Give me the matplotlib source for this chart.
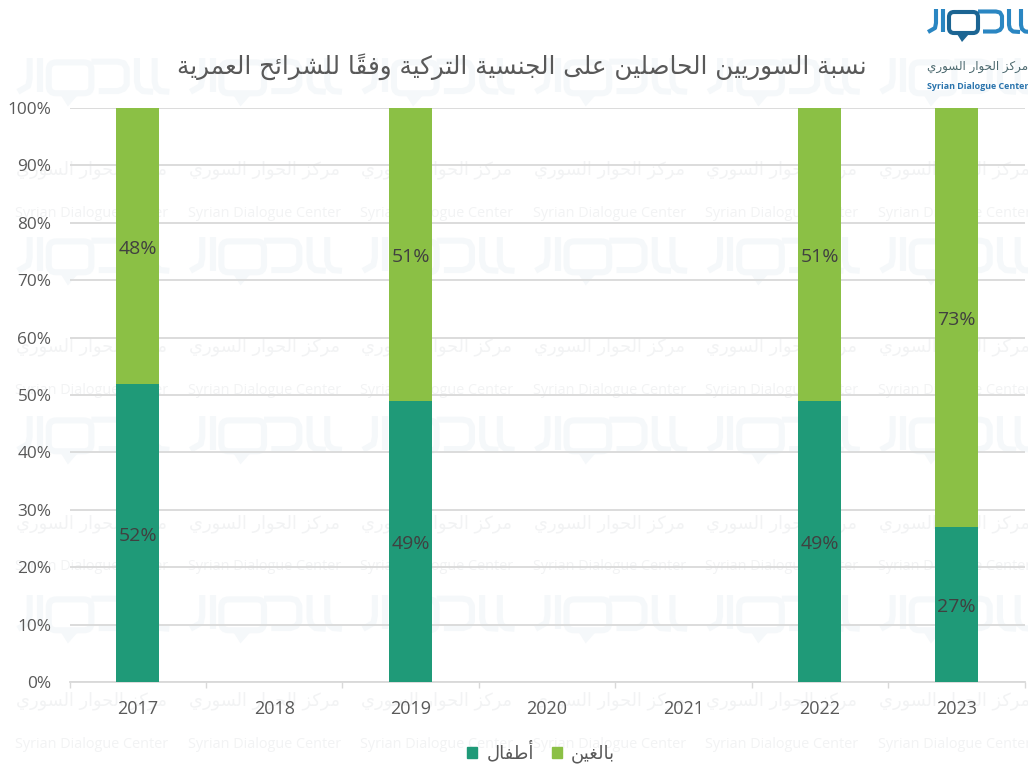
"""Share of Syrians granted Turkish citizenship, by age group"""

import unicodedata

import matplotlib

matplotlib.use("Agg")
import matplotlib.pyplot as plt
import numpy as np
from matplotlib.patches import FancyBboxPatch, Patch, Polygon

years = ["2017", "2018", "2019", "2020", "2021", "2022", "2023"]
children = [52, np.nan, 49, np.nan, np.nan, 49, 27]
adults = [48, np.nan, 51, np.nan, np.nan, 51, 73]
y_ticks = [0, 10, 20, 30, 40, 50, 60, 70, 80, 90, 100]
y_tick_labels = [f"{v}%" for v in y_ticks]

title_text = "نسبة السوريين الحاصلين على الجنسية التركية وفقاً للشرائح العمرية"
children_label = "أطفال"
adults_label = "بالغين"
center_ar = "مركز الحوار السوري"
center_en = "Syrian Dialogue Center"

DARK_GREEN = "#1f9a78"
LIGHT_GREEN = "#8bc045"
GRID = "#d9d9d9"
TEXT = "#595959"
WATERMARK = "#f5f8fa"
WATERMARK_TEXT = "#f2f3f4"
LATIN = "Open Sans"

# presentation forms, looked up from the unicode tables
forms = {}
for code in list(range(0xFE80, 0xFEFD)):
    parts = unicodedata.decomposition(chr(code)).split()
    if len(parts) == 2:
        forms.setdefault(chr(int(parts[1], 16)), {})[parts[0]] = chr(code)


def shape(text):
    """Matplotlib has no Arabic shaping, so join the letters and reverse them"""
    clusters = []
    for ch in text:
        if unicodedata.combining(ch) and clusters:
            clusters[-1][1] += ch
        else:
            clusters.append([ch, ""])
    out = []
    for i, (ch, marks) in enumerate(clusters):
        prev = clusters[i - 1][0] if i > 0 else " "
        nxt = clusters[i + 1][0] if i + 1 < len(clusters) else " "
        f = forms.get(ch)
        if f is None:
            out.append(ch + marks)
            continue
        joins_prev = "<initial>" in forms.get(prev, {})
        joins_next = "<final>" in forms.get(nxt, {}) and "<initial>" in f
        if joins_prev and joins_next:
            key = "<medial>"
        elif joins_prev:
            key = "<final>"
        elif joins_next:
            key = "<initial>"
        else:
            key = "<isolated>"
        out.append(f.get(key, ch) + marks)
    return "".join(reversed(out))


def draw_logo(ax, x0, y0, scale, color, dark=None, zorder=1):
    """The site logo as thick strokes, x0/y0 is its top left corner in pixels"""
    dark = dark or color
    lw = 4.1 * scale * 0.72
    strokes = [
        ([11, 11, 10, 3], [0, 14, 19, 23]),
        ([18, 18], [0, 23]),
        ([53, 71, 75, 77, 77, 75, 71, 58], [2.5, 2.5, 3.5, 7, 18, 21, 22.5, 22.5]),
        ([84, 84, 85, 88, 95], [0, 16, 20, 22.5, 23]),
        ([96, 96, 97, 100, 106], [0, 16, 20, 22.5, 23]),
    ]
    for sx, sy in strokes:
        ax.plot(
            x0 + np.array(sx) * scale,
            y0 + np.array(sy) * scale,
            color=color,
            lw=lw,
            solid_capstyle="butt",
            solid_joinstyle="round",
            zorder=zorder,
        )
    ax.add_patch(
        FancyBboxPatch(
            (x0 + 29 * scale, y0 + 8 * scale),
            19 * scale,
            11 * scale,
            boxstyle=f"round,pad={5 * scale},rounding_size={5 * scale}",
            fc="none",
            ec=dark,
            lw=lw,
            zorder=zorder,
        )
    )
    ax.add_patch(
        Polygon(
            [
                (x0 + 32 * scale, y0 + 25 * scale),
                (x0 + 37 * scale, y0 + 33 * scale),
                (x0 + 44 * scale, y0 + 25 * scale),
            ],
            fc=dark,
            ec="none",
            zorder=zorder,
        )
    )


fig = plt.figure(figsize=(10.28, 7.65), dpi=100)

## Watermark and logo layer, in pixel coordinates
bg = fig.add_axes([0, 0, 1, 1], zorder=0)
bg.set_xlim(0, 1028)
bg.set_ylim(765, 0)
bg.axis("off")

tile_x = [91.5 + 172.6 * i for i in range(6)]
for cx in tile_x:
    for row in range(4):
        ly = 58 + 179 * row
        draw_logo(bg, cx - 78, ly, 1.47, WATERMARK)
    for row in range(4):
        bg.text(
            cx,
            213 + 177 * row,
            center_en,
            family=LATIN,
            fontsize=10.4,
            color=WATERMARK_TEXT,
            ha="center",
            va="center",
        )
        bg.text(
            cx,
            170 + 177 * row,
            shape(center_ar),
            family="DejaVu Sans",
            fontsize=12.8,
            color=WATERMARK_TEXT,
            ha="center",
            va="center",
        )

draw_logo(bg, 925, 9, 1.0, "#2a86c2", dark="#1c6593", zorder=3)
bg.text(
    927,
    66,
    shape(center_ar),
    family="DejaVu Sans",
    fontsize=8.6,
    color="#4d6a70",
    ha="left",
    va="center",
    zorder=3,
)
bg.text(
    927,
    86,
    center_en,
    family=LATIN,
    fontsize=6.4,
    fontweight="bold",
    color="#2a74ad",
    ha="left",
    va="center",
    zorder=3,
)
bg.text(
    522,
    66.5,
    shape(title_text),
    family="DejaVu Sans",
    fontsize=17.7,
    color=TEXT,
    ha="center",
    va="center",
    zorder=3,
)

## Stacked bars
ax = fig.add_axes(
    [69.5 / 1028, (765 - 682) / 765, 955 / 1028, 574 / 765], zorder=1, facecolor="none"
)
x = np.arange(len(years))
children = np.array(children)
adults = np.array(adults)
ax.bar(x, children, width=0.315, color=DARK_GREEN, zorder=3)
ax.bar(x, adults, width=0.315, bottom=children, color=LIGHT_GREEN, zorder=3)

for i in x:
    if np.isnan(children[i]):
        continue
    for value, mid in [
        (children[i], children[i] / 2),
        (adults[i], children[i] + adults[i] / 2),
    ]:
        ax.annotate(
            f"{value:.0f}%",
            (i, mid),
            xytext=(0, -2),
            textcoords="offset points",
            family=LATIN,
            fontsize=14,
            color="#404040",
            ha="center",
            va="center",
            zorder=4,
        )

ax.set_xlim(-0.5, len(years) - 0.5)
ax.set_ylim(0, 100)
ax.set_yticks(y_ticks, y_tick_labels, family=LATIN, fontsize=12.4, color=TEXT)
ax.set_xticks(x, years, family=LATIN, fontsize=13, color=TEXT)
ax.set_xticks(np.arange(len(years) + 1) - 0.5, minor=True)
ax.tick_params(axis="y", length=0, pad=13)
ax.tick_params(axis="x", which="major", length=0, pad=13)
ax.tick_params(axis="x", which="minor", length=4, width=1, color=GRID)
ax.grid(axis="y", color=GRID, lw=1.3, zorder=1)
ax.set_axisbelow(True)
for name in ["top", "left", "right"]:
    ax.spines[name].set_visible(False)
ax.spines["bottom"].set_color(GRID)
ax.spines["bottom"].set_linewidth(1.3)

## Legend
handles = [Patch(color=DARK_GREEN), Patch(color=LIGHT_GREEN)]
legend = fig.legend(
    handles,
    [shape(children_label), shape(adults_label)],
    loc="center",
    bbox_to_anchor=(541 / 1028, (765 - 752) / 765),
    ncol=2,
    frameon=False,
    prop={"family": "DejaVu Sans", "size": 13},
    handlelength=0.55,
    handleheight=0.55,
    handletextpad=0.5,
    columnspacing=1.0,
    labelcolor=TEXT,
)

fig.savefig("out.png", dpi=100)
